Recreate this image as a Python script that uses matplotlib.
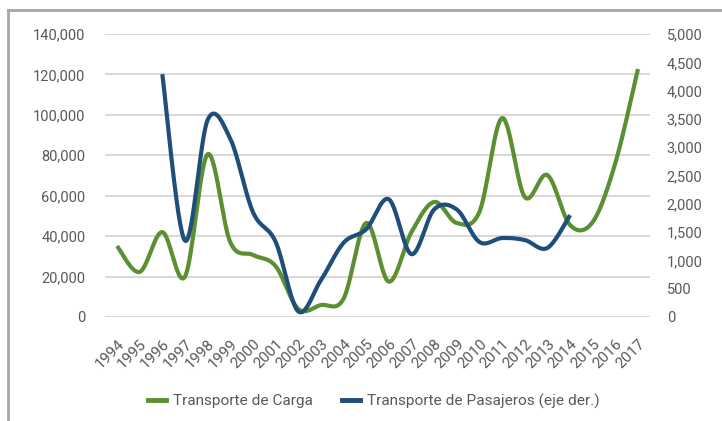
import numpy as np
import matplotlib
matplotlib.use('Agg')
from matplotlib import pyplot as plt
from matplotlib.lines import Line2D

years = list(range(1994, 2018))
carga = [35100, 22300, 42000, 20000, 80500, 37000, 30700, 25200, 4000, 5900,
         9000, 46500, 17500, 42000, 56900, 46500, 52000, 98400, 59400, 70200,
         45500, 47000, 76200, 122700]

pas_years = list(range(1996, 2015))
pasajeros = [4290, 1350, 3480, 3150, 1855, 1330, 100, 650, 1310, 1550,
             2080, 1110, 1900, 1900, 1325, 1395, 1360, 1220, 1800]

left_ticks = list(range(0, 140001, 20000))
right_ticks = list(range(0, 5001, 500))

GREEN = '#5a8f32'
BLUE = '#1f4e79'
TEXT = '#595959'


def smooth(x, y, n=30):
    # Excel style smoothed line (Catmull-Rom through the points)
    x = np.asarray(x, float)
    y = np.asarray(y, float)
    px = np.concatenate([[x[0]], x, [x[-1]]])
    py = np.concatenate([[y[0]], y, [y[-1]]])
    t = np.linspace(0, 1, n, endpoint=False)
    xs, ys = [], []
    for i in range(1, len(px) - 2):
        for p, out in ((px, xs), (py, ys)):
            p0, p1, p2, p3 = p[i - 1], p[i], p[i + 1], p[i + 2]
            c1 = p1 + (p2 - p0) / 6
            c2 = p2 - (p3 - p1) / 6
            out.extend((1 - t) ** 3 * p1 + 3 * (1 - t) ** 2 * t * c1
                       + 3 * (1 - t) * t ** 2 * c2 + t ** 3 * p2)
    xs.append(x[-1])
    ys.append(y[-1])
    return np.array(xs), np.array(ys)


plt.rcParams['font.family'] = ['Roboto', 'DejaVu Sans']

fig = plt.figure(figsize=(7.22, 4.21), dpi=100)
ax = fig.add_axes([105 / 722, 1 - 317 / 421, 545 / 722, 283 / 421])
ax2 = ax.twinx()

ax.set_ylim(0, 140000)
ax2.set_ylim(0, 5000)
ax.set_xlim(1993.47, 2017.53)

ax.set_yticks(left_ticks)
ax.set_yticklabels(['{:,}'.format(v) for v in left_ticks])
ax2.set_yticks(right_ticks)
ax2.set_yticklabels(['{:,}'.format(v) for v in right_ticks])
ax.set_xticks(years)
ax.set_xticklabels([str(y) for y in years], rotation=45, ha='right',
                   rotation_mode='anchor')

ax.grid(axis='y', color='#d9d9d9', linewidth=1.5)
ax.set_axisbelow(True)
for a in (ax, ax2):
    for s in a.spines.values():
        s.set_visible(False)
    a.tick_params(length=0, labelsize=10.5, labelcolor=TEXT)
ax.tick_params(axis='x', labelsize=11)
ax.tick_params(axis='y', pad=14)
ax.tick_params(axis='x', pad=14)
ax2.tick_params(axis='y', pad=12)

gx, gy = smooth(years, carga)
ax.plot(gx, gy, color=GREEN, linewidth=3, solid_capstyle='butt',
        label='Transporte de Carga')
bx, by = smooth(pas_years, pasajeros)
ax2.plot(bx, by, color=BLUE, linewidth=3, solid_capstyle='butt',
         label='Transporte de Pasajeros (eje der.)')

handles = [Line2D([], [], color=GREEN, linewidth=3.5),
           Line2D([], [], color=BLUE, linewidth=3.5)]
fig.legend(handles, ['Transporte de Carga', 'Transporte de Pasajeros (eje der.)'],
           loc='center', bbox_to_anchor=(374 / 722, 1 - 401 / 421), ncol=2,
           frameon=False, fontsize=11.1, labelcolor=TEXT, handlelength=1.15,
           handletextpad=0.45, columnspacing=1.9)

# gray frame on the top and left edges
fig.add_artist(Line2D([8 / 722, 1], [1 - 10 / 421, 1 - 10 / 421],
                      color='#a6a6a6', linewidth=2))
fig.add_artist(Line2D([8 / 722, 8 / 722], [0, 1 - 10 / 421],
                      color='#a6a6a6', linewidth=2))

fig.savefig('out.png', dpi=100)
